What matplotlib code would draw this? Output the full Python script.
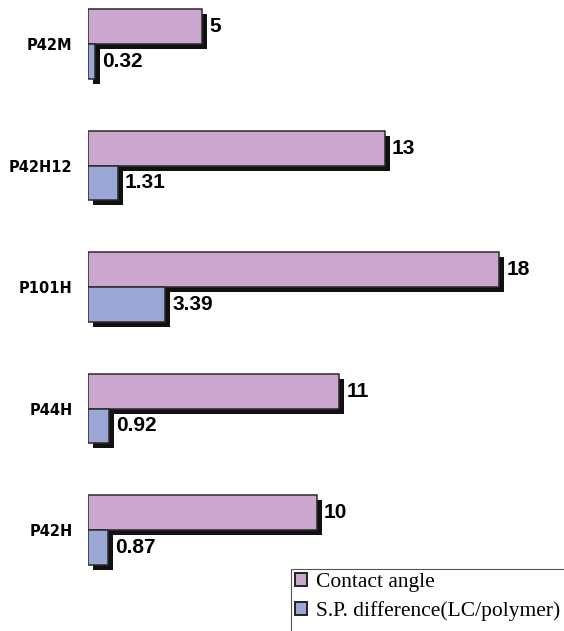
import matplotlib.pyplot as plt
import matplotlib.patheffects as pe
from matplotlib.patches import Patch, Rectangle
import numpy as np

samples = ['P42M', 'P42H12', 'P101H', 'P44H', 'P42H']
contact_angle = [5, 13, 18, 11, 10]
sp_diff = [0.32, 1.31, 3.39, 0.92, 0.87]
contact_labels = ['5', '13', '18', '11', '10']
sp_labels = ['0.32', '1.31', '3.39', '0.92', '0.87']

c_contact = '#CBA6CE'
c_sp = '#9BA8D6'

W, H = 564, 631
fig = plt.figure(figsize=(W / 100, H / 100), dpi=100)

# axes runs from the bar baseline to the right edge, full height
ax = fig.add_axes([88 / W, 0, 1 - 88 / W, 1])
px_x = 22.85   # pixels per data unit
px_y = 121.5   # pixels between groups
ax.set_xlim(0, (W - 88) / px_x)
ax.set_ylim((H - 44) / px_y, -44 / px_y)

y = np.arange(len(samples))
h = 0.285
shadow = [pe.SimplePatchShadow(offset=(3.6, -3.6), shadow_rgbFace='#111111', alpha=1.0), pe.Normal()]

b1 = ax.barh(y - h / 2, contact_angle, height=h, color=c_contact,
             edgecolor='#2a2a2a', linewidth=1.1, zorder=2)
b2 = ax.barh(y + h / 2, sp_diff, height=h, color=c_sp,
             edgecolor='#2a2a2a', linewidth=1.1, zorder=3)
for bar in list(b1) + list(b2):
    bar.set_path_effects(shadow)

for yi, v, s in zip(y, contact_angle, contact_labels):
    ax.annotate(s, (v, yi - h / 2), xytext=(5, 0), textcoords='offset points',
                ha='left', va='center', fontsize=15, fontweight='bold',
                family='Liberation Sans', zorder=5)
for yi, v, s in zip(y, sp_diff, sp_labels):
    ax.annotate(s, (v, yi + h / 2), xytext=(5, 0), textcoords='offset points',
                ha='left', va='center', fontsize=15, fontweight='bold',
                family='Liberation Sans', zorder=5)

ax.set_yticks(y)
ax.set_yticklabels(samples, fontsize=10.5, fontweight='bold', family='DejaVu Sans')
ax.tick_params(axis='y', length=0, pad=11)
ax.set_xticks([])
for sp in ax.spines.values():
    sp.set_visible(False)

# legend box runs off the right and bottom edges
fig.add_artist(Rectangle((291 / W, -0.05), 0.5, 1 - 569 / H + 0.05,
                         transform=fig.transFigure, facecolor='white',
                         edgecolor='#555555', linewidth=0.8, zorder=4))
handles = [Patch(facecolor=c_contact, edgecolor='#222222', linewidth=1.4),
           Patch(facecolor=c_sp, edgecolor='#222222', linewidth=1.4)]
leg = fig.legend(handles, ['Contact angle', 'S.P. difference(LC/polymer)'],
                 loc='upper left', bbox_to_anchor=(292 / W, 1 - 570 / H),
                 prop={'family': 'Liberation Serif', 'size': 15.5},
                 handlelength=0.55, handleheight=0.55, handletextpad=0.4,
                 labelspacing=0.4, borderpad=0.15, borderaxespad=0,
                 frameon=False)
leg.set_zorder(5)

fig.savefig('out.png', dpi=100)
